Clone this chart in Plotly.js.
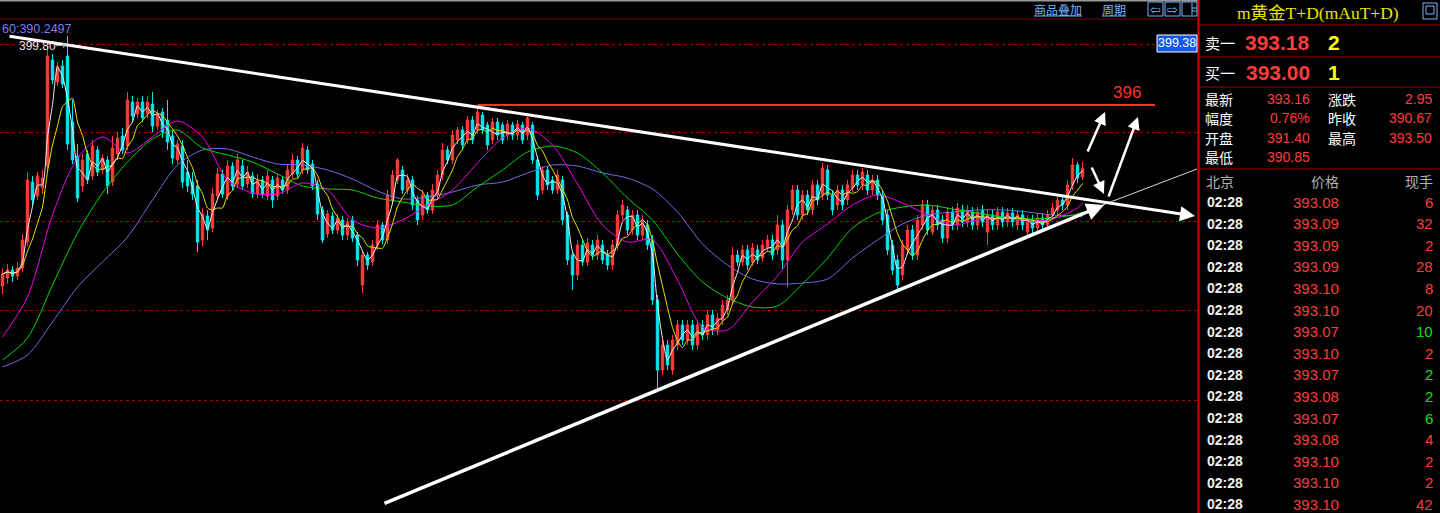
<!DOCTYPE html>
<html><head><meta charset="utf-8">
<script src="https://cdn.plot.ly/plotly-3.0.1.min.js"></script>
<style>html,body{margin:0;padding:0;background:#000;overflow:hidden}#chart{width:1440px;height:513px}</style>
</head><body><div id="chart"></div><script>
// ---------- DATA ----------
const opens = [387.3,387.7,388.1,387.8,388.2,389.5,392.5,391.8,392.2,393.3,
398.6,397.5,398.3,398.8,395.5,393.8,392.3,393.9,392.8,394.1,
393.1,393.6,392.5,393.9,394.8,394.3,396.5,395.9,396.5,395.9,
396.4,395.3,396.0,395.6,394.8,393.6,394.3,393.0,392.5,392.3,
389.6,390.8,390.2,391.8,392.9,391.8,393.3,392.4,393.3,392.4,
392.8,391.9,392.6,391.8,392.6,391.8,392.6,392.1,392.9,393.6,
393.1,394.1,393.4,392.4,391.1,389.9,390.8,390.1,390.6,389.85,
390.6,389.85,387.35,388.85,388.5,389.35,390.35,389.6,391.6,392.6,
393.1,392.1,392.6,391.6,390.85,391.85,391.1,391.85,392.85,394.1,
393.6,394.6,395.1,394.6,395.6,395.1,395.85,395.35,394.6,395.5,
395.35,394.85,395.35,394.85,395.35,394.85,395.35,393.6,392.1,393.1,
392.6,392.1,392.6,390.85,388.85,387.85,389.35,388.5,389.35,388.85,
389.35,388.85,388.35,389.35,390.85,391.1,390.1,390.85,389.85,390.35,
389.6,386.6,383.1,384.35,383.1,384.35,385.35,384.6,385.35,384.35,
385.35,384.85,385.85,385.1,385.6,386.1,386.6,388.85,388.5,389.1,
388.5,389.1,388.7,389.2,389.6,389.1,390.35,388.6,391.1,392.1,
390.85,391.85,391.1,392.35,391.85,393.1,391.85,391.35,392.1,391.6,
392.2,392.85,392.35,392.85,392.1,392.6,391.85,390.85,389.35,388.6,
387.85,389.1,390.1,388.85,390.35,391.35,390.0,391.1,390.6,389.7,
391.0,390.35,391.1,390.5,391.0,390.35,391.1,390.0,390.85,390.35,
391.0,390.5,390.95,390.35,390.85,390.0,390.6,390.2,390.7,390.35,
390.85,391.1,391.6,391.35,392.35,393.35,392.75];
const closes = [387.9,388.1,387.8,388.2,389.6,392.6,391.6,392.8,392.7,398.8,
397.6,398.3,397.4,394.4,393.6,391.7,393.6,392.6,394.3,393.0,
393.7,392.3,394.2,394.7,394.1,396.6,395.8,396.5,395.7,396.5,
395.3,395.9,395.0,394.5,393.7,394.4,392.5,392.3,391.9,389.5,
390.9,390.1,391.9,392.9,391.9,393.3,392.3,393.6,392.3,393.0,
391.9,392.6,391.9,392.8,391.6,392.7,392.1,393.1,393.6,392.9,
394.2,393.1,392.3,390.9,389.6,390.9,390.1,390.7,389.85,390.5,
389.7,388.6,388.85,388.35,389.35,390.35,389.6,391.85,392.85,393.6,
392.1,392.6,391.35,390.6,391.85,391.1,392.1,392.85,394.1,393.6,
394.85,395.1,394.35,395.6,394.6,396.0,395.1,394.35,395.5,394.85,
394.6,395.4,394.85,395.4,394.6,395.7,393.6,391.85,393.1,392.35,
392.1,392.85,390.6,388.6,387.85,389.35,388.5,389.45,388.85,389.6,
388.6,388.35,389.35,390.85,391.35,390.1,390.85,389.85,390.6,389.35,
386.6,383.1,384.35,383.35,384.6,385.35,384.6,385.35,384.35,385.35,
384.85,385.85,385.1,385.7,386.35,386.6,388.85,388.5,389.1,388.35,
389.2,388.6,389.35,389.6,388.85,390.35,388.6,391.1,392.1,390.85,
391.85,391.1,392.35,391.6,393.2,391.85,391.1,392.1,391.35,392.35,
392.85,392.35,393.0,392.1,392.6,391.85,390.6,389.1,388.1,387.35,
389.35,390.1,388.85,390.6,391.35,390.1,391.1,390.35,389.7,391.0,
390.35,391.2,390.5,391.1,390.35,391.0,390.5,390.85,390.35,391.0,
390.5,390.95,390.5,390.85,390.35,390.6,390.2,390.7,390.35,390.85,
391.2,391.6,391.35,392.35,393.35,392.7,393.16];
const highs = [388.2,388.4,388.3,388.5,389.9,393.0,392.8,393.0,393.1,399.3,
398.9,398.5,398.6,399.8,396.6,394.4,393.9,394.1,394.6,394.3,
393.9,393.8,394.8,395.0,395.2,397.0,396.8,396.7,396.8,396.8,
397.0,396.1,396.2,396.6,395.1,394.6,394.6,393.6,393.0,392.6,
391.2,391.1,392.2,393.2,393.1,393.6,393.5,393.9,393.6,393.3,
393.0,392.9,392.8,393.1,392.8,392.9,392.8,393.4,393.9,393.8,
394.45,394.3,393.6,392.6,391.3,391.1,391.0,390.9,390.8,390.7,
390.8,390.0,389.1,389.0,389.6,390.6,390.5,392.1,393.1,393.7,
393.3,392.9,392.8,391.8,392.1,392.0,392.4,393.1,394.45,394.3,
395.1,395.25,395.3,395.8,395.8,396.2,396.0,395.5,395.7,395.7,
395.5,395.6,395.5,395.6,395.5,395.8,395.5,393.8,393.3,393.3,
392.8,393.1,392.8,391.0,389.0,389.6,389.6,389.7,389.6,389.85,
389.6,389.1,389.6,391.1,391.6,391.3,391.1,391.1,390.85,390.6,
389.85,386.85,384.6,384.6,384.85,385.6,385.6,385.6,385.6,385.6,
385.6,386.1,386.1,385.95,386.6,386.85,389.25,389.1,389.35,389.35,
389.45,389.35,389.6,389.85,389.85,390.85,390.6,391.35,392.35,392.35,
392.1,392.1,392.6,392.6,393.45,393.35,392.1,392.35,392.35,392.6,
393.1,393.1,393.2,393.1,392.85,392.85,392.1,391.1,389.6,388.85,
389.6,390.35,390.35,390.85,391.6,391.6,391.35,391.35,390.85,391.25,
391.25,391.45,391.35,391.35,391.25,391.25,391.35,391.1,391.1,391.25,
391.25,391.2,391.2,391.1,391.1,390.85,390.85,390.95,390.95,391.1,
391.45,391.85,391.85,392.6,393.7,393.5,393.5];
const lows = [386.9,387.4,387.5,387.6,388.0,389.3,391.3,391.6,391.9,393.0,
397.4,397.3,397.2,394.1,393.4,391.5,392.0,392.4,392.6,392.8,
392.9,391.9,392.3,393.6,393.9,394.1,395.5,395.7,395.5,395.7,
395.0,395.1,394.7,394.1,393.4,393.4,392.2,392.0,391.6,389.0,
389.3,389.6,390.0,391.6,391.7,391.6,392.1,392.2,392.1,392.2,
391.7,391.7,391.7,391.6,391.2,391.6,391.9,391.9,392.7,392.7,
392.9,392.9,392.1,390.6,389.45,389.7,389.9,389.9,389.6,389.6,
389.5,388.3,386.95,388.1,388.3,389.1,389.4,389.4,391.4,392.4,
391.9,391.9,391.1,390.35,390.6,390.9,390.9,391.6,392.6,393.4,
393.4,394.4,394.1,394.4,394.4,394.9,394.9,394.1,394.4,394.6,
394.4,394.6,394.6,394.6,394.4,394.6,393.4,391.6,391.9,392.1,
391.9,391.9,390.35,388.35,387.1,387.6,388.3,388.3,388.6,388.6,
388.4,388.1,388.1,389.1,390.6,389.85,389.85,389.6,389.6,389.1,
386.35,382.2,382.85,383.1,382.85,384.1,384.35,384.35,384.1,384.1,
384.6,384.6,384.85,384.85,385.35,385.85,386.35,388.3,388.3,388.1,
388.3,388.4,388.5,389.0,388.6,388.85,388.1,387.25,390.85,390.6,
390.6,390.85,390.85,391.35,391.6,391.6,390.85,391.1,391.1,391.35,
392.0,392.1,392.1,391.85,391.85,391.6,390.35,388.85,387.85,387.1,
387.6,388.85,388.6,388.6,390.1,389.85,389.85,390.1,389.45,389.45,
390.1,390.1,390.25,390.25,390.1,390.1,390.25,389.35,390.1,390.1,
390.25,390.25,390.25,390.1,390.1,389.7,389.95,389.95,390.1,390.1,
390.6,390.85,391.1,391.1,392.1,392.45,392.6];

const maIdx = [0,5,10,15,20,25,30,35,40,45,50,55,60,65,70,75,80,85,90,95,100,105,110,115,120,125,130,135,140,145,150,155,160,165,170,175,180,185,190,195,200,205,210,215,216];
const ma20 = [384.75,386.75,390.85,393.7,394.75,393.95,394.75,395.55,394.75,392.6,391.95,391.9,392.45,392.1,390.6,390.2,390.6,391.35,392.1,393.45,394.7,395.2,394.35,392.4,390.35,389.5,389.6,387.6,385.25,385.1,386.5,387.8,389.5,390.4,391.35,391.85,391.45,390.85,390.35,390.6,390.7,390.55,390.65,391.2,391.45];
const ma40 = [383.6,384.7,387.35,389.95,391.95,393.5,394.65,395.1,394.2,393.85,393.5,392.9,392.3,392.15,392.1,391.7,391.5,391.3,391.35,392.25,393.1,394.0,394.3,393.95,392.95,391.7,390.6,388.9,387.5,386.7,386.25,386.3,387.4,388.7,390.2,390.95,391.25,391.35,391.15,390.95,390.75,390.65,390.7,390.9,391.0];
const ma60 = [383.25,383.85,385.5,387.25,388.5,389.75,391.6,393.35,394.1,394.15,393.75,393.4,393.35,393.1,392.65,392.05,391.65,391.75,392.0,392.35,392.5,392.95,393.35,393.3,392.95,392.7,392.15,391.0,389.4,388.35,387.65,387.4,387.45,387.65,388.7,389.6,390.4,390.85,391.0,391.1,391.1,391.0,390.85,390.8,390.75];

const gridPrices = [399.4, 395.0, 390.55, 386.1, 381.6];
const resistLevel = 396.35, resistText = '396';
const markPrice = '399.38', highText = '399.80', ma60Text = '60:390.2497';

const title = 'm黄金T+D(mAuT+D)';
const askRow = ['卖一','393.18','2'], bidRow = ['买一','393.00','1'];
const statLabelsL = ['最新','幅度','开盘','最低'], statValsL = ['393.16','0.76%','391.40','390.85'];
const statLabelsR = ['涨跌','昨收','最高'], statValsR = ['2.95','390.67','393.50'];
const tradeHeader = ['北京','价格','现手'];
const tradeTime = '02:28';
const tradePrices = ['393.08','393.09','393.09','393.09','393.10','393.10','393.07','393.10','393.07','393.08','393.07','393.08','393.10','393.10','393.10'];
const tradeVols = ['6','32','2','28','8','20','10','2','2','2','6','4','2','2','42'];
const tradeUp = [1,1,1,1,1,1,0,1,0,0,0,1,1,1,1];

// ---------- BUILD ----------
const idx = opens.map((_, i) => i);
function sma(arr, n){ return arr.map((_, i) => { const w = arr.slice(Math.max(0, i-n+1), i+1); return w.reduce((a,b)=>a+b,0)/w.length; }); }
const ma5 = sma(closes, 3), ma10 = sma(closes, 6);

const W = 1440, H = 513, CW = 1197;
const PX = x => x / W, PY = y => 1 - y / H;
const RED = '#ff3c3c', CYAN = '#00e8f0';

const traces = [
  {type:'candlestick', x: idx, open: opens, high: highs, low: lows, close: closes,
   increasing:{line:{color:RED,width:1},fillcolor:RED},
   decreasing:{line:{color:CYAN,width:1},fillcolor:CYAN},
   whiskerwidth:0, hoverinfo:'skip'},
  {type:'scatter', mode:'lines', x: maIdx, y: ma60, line:{color:'#6d6de8',width:1,shape:'spline',smoothing:0.8}, hoverinfo:'skip'},
  {type:'scatter', mode:'lines', x: maIdx, y: ma40, line:{color:'#00d800',width:1,shape:'spline',smoothing:0.8}, hoverinfo:'skip'},
  {type:'scatter', mode:'lines', x: maIdx, y: ma20, line:{color:'#f000f0',width:1,shape:'spline',smoothing:0.8}, hoverinfo:'skip'},
  {type:'scatter', mode:'lines', x: idx, y: ma10, line:{color:'#e8e800',width:1,shape:'spline',smoothing:0.6}, hoverinfo:'skip'},
  {type:'scatter', mode:'lines', x: idx, y: ma5, line:{color:'#f0f0f0',width:1,shape:'spline',smoothing:0.6}, hoverinfo:'skip'}
];

const shapes = [];
const annotations = [];
function pline(x0,y0,x1,y1,color,w,dash){ shapes.push({type:'line',xref:'paper',yref:'paper',x0:PX(x0),y0:PY(y0),x1:PX(x1),y1:PY(y1),line:{color,width:w,dash:dash||'solid'},layer:'above'}); }
function prect(x0,y0,x1,y1,line,fill,w){ shapes.push({type:'rect',xref:'paper',yref:'paper',x0:PX(x0),y0:PY(y0),x1:PX(x1),y1:PY(y1),line:{color:line,width:w||1},fillcolor:fill||'rgba(0,0,0,0)',layer:'above'}); }
function txt(x,y,text,size,color,anchor,family){ annotations.push({xref:'paper',yref:'paper',x:PX(x),y:PY(y),text,showarrow:false,xanchor:anchor||'left',yanchor:'middle',font:{family:family||'Liberation Sans, Noto Sans CJK SC',size,color}}); }
function arrow(tx,ty,hx,hy,w,head,size,color){ annotations.push({xref:'paper',yref:'paper',x:PX(hx),y:PY(hy),ax:tx-hx,ay:ty-hy,text:'',showarrow:true,arrowhead:head,arrowsize:size,arrowwidth:w,arrowcolor:color,standoff:0,startstandoff:0}); }

// frame lines
pline(0,0.5,1198,0.5,'#9a9a9a',2);
pline(0,19,1198,19,'#8a0000',1);
pline(1198.5,0,1198.5,513,'#d00000',2);

// resistance level (data coords)
shapes.push({type:'line',xref:'x',yref:'y',x0:95,x1:230.5,y0:resistLevel,y1:resistLevel,line:{color:'#ff3030',width:2},layer:'above'});
txt(1127,92,resistText,17,'#ff3030','center','Liberation Sans');

// trend lines & arrows (drawn annotations)
arrow(8,36,1195,216,3,2,1,'#ffffff');
arrow(383,504,1104,205,3.5,2,1,'#ffffff');
pline(1100,206,1197,169,'#d8d8d8',1);
arrow(1087,153,1105,112,2.5,2,1,'#ffffff');
arrow(1108,198,1138,117,2.5,2,1,'#ffffff');
arrow(1091,166,1104,194,2.5,2,1,'#ffffff');

// labels on chart
txt(0,29,ma60Text,12.5,'#7c7cf4','left','Liberation Sans');
txt(17,46,highText,12,'#e6e6e6','left','Liberation Sans');
arrow(54,46,66,45,1,1,1,'#bbbbbb');
prect(1157,35,1197,52,'#ffffff','#1458e8',1);
txt(1177,43.5,markPrice,12.5,'#ffffff','center','Liberation Sans');

// toolbar
txt(1058,9,'商品叠加',12,'#74b4ff','center','Noto Sans CJK SC');
pline(1034,16,1082,16,'#74b4ff',1);
txt(1114,9,'周期',12,'#74b4ff','center','Noto Sans CJK SC');
pline(1102,16,1126,16,'#74b4ff',1);
prect(1148,2,1163,16,'#74b4ff','#000',1);
prect(1165,2,1180,16,'#74b4ff','#000',1);
prect(1182,2,1197,16,'#74b4ff','#000',1);
txt(1155.5,9,'⇦',13,'#74b4ff','center','DejaVu Sans');
txt(1172.5,9,'⇨',13,'#74b4ff','center','DejaVu Sans');
pline(1192,3,1192,15,'#74b4ff',1);
pline(1192,8,1197,8,'#74b4ff',1);
pline(1192,11,1197,11,'#74b4ff',1);

// right panel
[25,57,87,169].forEach(y => pline(1198,y,1440,y,'#a00000',1));
txt(1318,13,title,17.5,'#e6e600','center','Liberation Serif, Noto Sans CJK SC');
prect(1423,3,1437,19,'#74b4ff','#000',1);
prect(1426,6,1434,14,'#74b4ff','#000',1);
[[askRow,42],[bidRow,72]].forEach(([r,y]) => {
  txt(1203,y,r[0],15,'#ffffff','left','Noto Sans CJK SC');
  txt(1312,y,'<b>'+r[1]+'</b>',21,RED,'right','Liberation Sans');
  txt(1326,y,'<b>'+r[2]+'</b>',21,'#ffff00','left','Liberation Sans');
});
const statY = [99,118,138,157];
statLabelsL.forEach((l,i) => { txt(1203,statY[i],l,14,'#ffffff','left','Noto Sans CJK SC'); txt(1312,statY[i],statValsL[i],14,RED,'right','Liberation Sans'); });
statLabelsR.forEach((l,i) => { txt(1326,statY[i],l,14,'#ffffff','left','Noto Sans CJK SC'); txt(1434,statY[i],statValsR[i],14,RED,'right','Liberation Sans'); });
txt(1204,181,tradeHeader[0],14,'#b0b0b0','left','Noto Sans CJK SC');
txt(1341,181,tradeHeader[1],14,'#b0b0b0','right','Noto Sans CJK SC');
txt(1435,181,tradeHeader[2],14,'#b0b0b0','right','Noto Sans CJK SC');
tradePrices.forEach((p,i) => {
  const y = 202 + 21.6*i;
  txt(1205,y,'<b>'+tradeTime+'</b>',14,'#f0f0f0','left','Liberation Sans');
  txt(1341,y,p,15,RED,'right','Liberation Sans');
  txt(1435,y,tradeVols[i],15,tradeUp[i] ? RED : '#10e010','right','Liberation Sans');
});

const layout = {
  width: W, height: H, margin:{l:0,r:0,t:0,b:0}, showlegend:false,
  paper_bgcolor:'#000', plot_bgcolor:'#000', dragmode:false,
  xaxis:{domain:[0, CW/W], range:[-0.5, 238.9], showgrid:false, zeroline:false, showticklabels:false, ticks:'', showline:false, rangeslider:{visible:false}, fixedrange:true},
  yaxis:{domain:[0,1], range:[401.6-H/20, 401.6], tickvals:gridPrices, showticklabels:false, ticks:'', showgrid:true, gridcolor:'#b00000', griddash:'dot', gridwidth:1, zeroline:false, showline:false, fixedrange:true},
  shapes, annotations
};
Plotly.newPlot('chart', traces, layout, {staticPlot:true, displayModeBar:false});
</script></body></html>
